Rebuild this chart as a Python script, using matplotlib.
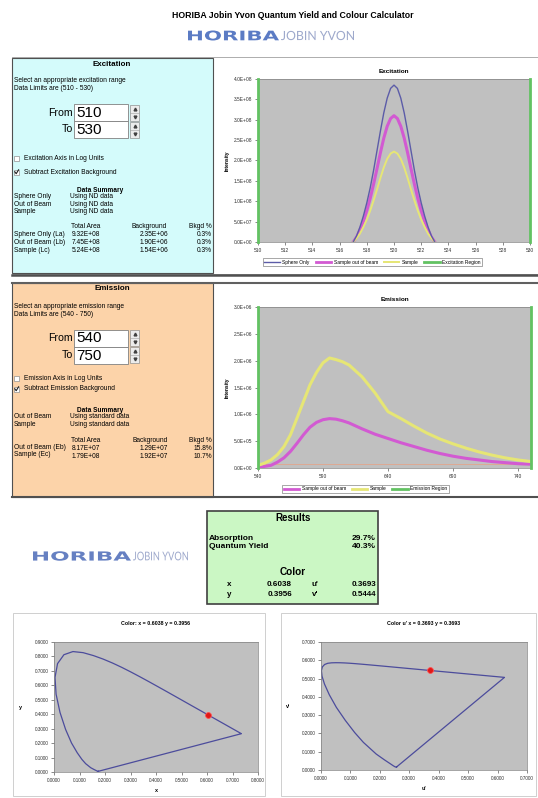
import matplotlib
matplotlib.use('Agg')
import matplotlib.pyplot as plt
from matplotlib.patches import Rectangle, PathPatch
from matplotlib.textpath import TextPath
from matplotlib.font_manager import FontProperties
from matplotlib.transforms import Affine2D
from matplotlib.ticker import FormatStrFormatter, FuncFormatter
from matplotlib.lines import Line2D
import numpy as np

plt.rcParams['font.family'] = ['Liberation Sans', 'DejaVu Sans']

W, H = 538, 798

# excitation scans (intensity in units of 1e8)
EXC_UNIT = 1e8
exc_wl = [517.0, 517.25, 517.5, 517.75, 518.0, 518.25, 518.5, 518.75, 519.0,
          519.25, 519.5, 519.75, 520.0, 520.25, 520.5, 520.75, 521.0, 521.25,
          521.5, 521.75, 522.0, 522.25, 522.5, 522.75, 523.0]
exc_sphere = [0.0, 0.15, 0.37, 0.64, 0.96, 1.33, 1.76, 2.24, 2.72, 3.17, 3.53, 3.77, 3.85,
              3.77, 3.53, 3.17, 2.72, 2.24, 1.76, 1.33, 0.96, 0.64, 0.37, 0.15, 0.0]
exc_outbeam = [0.0, 0.12, 0.30, 0.51, 0.77, 1.07, 1.42, 1.80, 2.19, 2.55, 2.84, 3.03, 3.10,
               3.03, 2.84, 2.55, 2.19, 1.80, 1.42, 1.07, 0.77, 0.51, 0.30, 0.12, 0.0]
exc_sample = [0.0, 0.09, 0.21, 0.37, 0.55, 0.77, 1.02, 1.29, 1.57, 1.83, 2.04, 2.17, 2.22,
              2.17, 2.04, 1.83, 1.57, 1.29, 1.02, 0.77, 0.55, 0.37, 0.21, 0.09, 0.0]
exc_region = [510, 530]

# emission scans (intensity in units of 1e6)
EM_UNIT = 1e6
em_wl = [540, 545, 550, 555, 560, 565, 570, 575, 580, 585, 590, 595, 600, 605, 610,
         620, 630, 640, 650, 660, 670, 680, 690, 700, 710, 720, 730, 740, 750]
em_outbeam = [0.01, 0.03, 0.05, 0.11, 0.19, 0.31, 0.46, 0.62, 0.76, 0.85, 0.90, 0.92, 0.91,
              0.88, 0.84, 0.73, 0.63, 0.55, 0.47, 0.40, 0.33, 0.27, 0.22, 0.18, 0.15,
              0.12, 0.10, 0.08, 0.07]
em_sample = [0.05, 0.09, 0.15, 0.25, 0.40, 0.62, 0.93, 1.24, 1.55, 1.78, 1.96, 2.05, 2.02,
             1.98, 1.92, 1.70, 1.40, 1.05, 0.92, 0.78, 0.65, 0.54, 0.45, 0.37, 0.30,
             0.24, 0.19, 0.15, 0.12]
em_background = [0.07, 0.07]
em_region = [540, 750]

# CIE 1931 spectral locus (380-700 nm)
cie_x = [0.1741, 0.1738, 0.1733, 0.1726, 0.1714, 0.1689, 0.1644, 0.1566, 0.1440, 0.1241,
         0.1096, 0.0913, 0.0687, 0.0454, 0.0235, 0.0082, 0.0039, 0.0139, 0.0389, 0.0743,
         0.1142, 0.1547, 0.1929, 0.2296, 0.2658, 0.3016, 0.3373, 0.3731, 0.4087, 0.4441,
         0.4788, 0.5125, 0.5448, 0.5752, 0.6029, 0.6270, 0.6658, 0.6915, 0.7079, 0.7190,
         0.7260, 0.7300, 0.7334, 0.7347]
cie_y = [0.0050, 0.0049, 0.0048, 0.0048, 0.0051, 0.0069, 0.0109, 0.0177, 0.0297, 0.0578,
         0.0868, 0.1327, 0.2007, 0.2950, 0.4127, 0.5384, 0.6548, 0.7502, 0.8120, 0.8338,
         0.8262, 0.8059, 0.7816, 0.7543, 0.7243, 0.6923, 0.6589, 0.6245, 0.5896, 0.5547,
         0.5202, 0.4866, 0.4544, 0.4242, 0.3965, 0.3725, 0.3340, 0.3083, 0.2920, 0.2809,
         0.2740, 0.2700, 0.2666, 0.2653]

color_x, color_y = 0.6038, 0.3956
color_u, color_v = 0.3693, 0.5444

exc_table = [('Sphere Only (La)', '9.32E+08', '2.35E+06', '0.3%'),
             ('Out of Beam (Lb)', '7.45E+08', '1.90E+06', '0.3%'),
             ('Sample (Lc)', '5.24E+08', '1.54E+06', '0.3%')]
em_table = [('Out of Beam (Eb)', '8.17E+07', '1.29E+07', '15.8%'),
            ('Sample (Ec)', '1.79E+08', '1.92E+07', '10.7%')]
table_head = ['Total Area', 'Background', 'Bkgd %']

C_SPHERE = '#5c5ca8'
C_OUT = '#d25ad2'
C_SAMPLE = '#e6e675'
C_REGION = '#62c262'
C_PLOT = '#c0c0c0'
SMALL = 4.8
TABLE_X = [100, 168, 212]


def main():
    fig = plt.figure(figsize=(W / 100, H / 100), dpi=100)
    bg = fig.add_axes([0, 0, 1, 1])
    bg.set_xlim(0, W)
    bg.set_ylim(H, 0)
    bg.axis('off')

    bg.text(293, 15, 'HORIBA Jobin Yvon Quantum Yield and Colour Calculator',
            ha='center', va='center', fontsize=6.3, weight='bold')
    draw_logo(bg, 188, 280, 354, 35.5, 10, '#5b7bc4')
    draw_logo(bg, 33, 132, 188, 556, 9.5, '#6680c2')

    # excitation block
    bg.add_patch(Rectangle((12, 57), 530, 217, fc='white', ec='#a0a0a0', lw=0.6, zorder=0.5))
    bg.add_patch(Rectangle((12, 58), 201, 215, fc='#d4fbfb', ec='#505050', lw=0.8, zorder=0.6))
    bg.plot([12, 538], [274.5, 274.5], color='#505050', lw=1.8)
    excitation_panel(bg)

    # emission block
    bg.add_patch(Rectangle((12, 283), 530, 214, fc='white', ec='#a0a0a0', lw=0.6, zorder=0.5))
    bg.add_patch(Rectangle((12, 283), 201, 214, fc='#fcd3a9', ec='#505050', lw=0.8, zorder=0.6))
    bg.plot([12, 538], [283, 283], color='#606060', lw=1.5)
    bg.plot([12, 538], [497, 497], color='#505050', lw=1.5)
    emission_panel(bg)

    results_box(bg)

    # chart frames at the bottom
    bg.add_patch(Rectangle((13, 613), 252, 183, fc='white', ec='#c8c8c8', lw=0.6, zorder=0.5))
    bg.add_patch(Rectangle((281, 613), 255, 183, fc='white', ec='#c8c8c8', lw=0.6, zorder=0.5))

    # excitation chart
    ax = px_axes(fig, 258, 79, 530, 242)
    excel_style(ax)
    ax.plot(exc_wl, np.array(exc_sphere) * EXC_UNIT, color=C_SPHERE, lw=1.0, zorder=4)
    ax.plot(exc_wl, np.array(exc_outbeam) * EXC_UNIT, color=C_OUT, lw=2.2, zorder=3)
    ax.plot(exc_wl, np.array(exc_sample) * EXC_UNIT, color=C_SAMPLE, lw=1.4, zorder=3)
    for xv in exc_region:
        ax.axvline(xv, color=C_REGION, lw=2, clip_on=False, zorder=5)
    ax.set_xlim(510, 530)
    ax.set_ylim(0, 4e8)
    ax.set_xticks(range(510, 531, 2))
    ax.set_yticks(np.arange(0, 4.01e8, 5e7))
    ax.yaxis.set_major_formatter(FuncFormatter(lambda v, p: f'{v:.1E}'))
    ax.set_title('Excitation', fontsize=4.6, weight='bold', pad=4)
    ax.set_ylabel('Intensity', fontsize=3.6, weight='bold', labelpad=3)
    handles = [Line2D([], [], color=C_SPHERE, lw=1), Line2D([], [], color=C_OUT, lw=2),
               Line2D([], [], color=C_SAMPLE, lw=1.4), Line2D([], [], color=C_REGION, lw=2)]
    labels = ['Sphere Only', 'Sample out of beam', 'Sample', 'Excitation Region']
    chart_legend(ax, handles, labels, (0.421, -0.123))

    # emission chart
    ax = px_axes(fig, 258, 307, 531, 468)
    excel_style(ax)
    ax.plot(em_region, np.array(em_background) * EM_UNIT, color='#e2a58c', lw=0.6, zorder=2)
    ax.plot(em_wl, np.array(em_outbeam) * EM_UNIT, color=C_OUT, lw=2.2, zorder=3)
    ax.plot(em_wl, np.array(em_sample) * EM_UNIT, color=C_SAMPLE, lw=2.2, zorder=3)
    for xv in em_region:
        ax.axvline(xv, color=C_REGION, lw=2, clip_on=False, zorder=5)
    ax.set_xlim(540, 750)
    ax.set_ylim(0, 3e6)
    ax.set_xticks(range(540, 751, 50))
    ax.set_yticks(np.arange(0, 3.01e6, 5e5))
    ax.yaxis.set_major_formatter(FuncFormatter(lambda v, p: f'{v:.1E}'))
    ax.set_title('Emission', fontsize=4.6, weight='bold', pad=4)
    ax.set_ylabel('Intensity', fontsize=3.6, weight='bold', labelpad=3)
    handles = [Line2D([], [], color=C_OUT, lw=2), Line2D([], [], color=C_SAMPLE, lw=2),
               Line2D([], [], color=C_REGION, lw=2)]
    chart_legend(ax, handles, ['Sample out of beam', 'Sample', 'Emission Region'], (0.394, -0.13))

    # CIE x,y chart
    ax = px_axes(fig, 54, 642, 258, 772)
    cie_chart(ax, cie_x, cie_y, color_x, color_y, 0.8, 0.9,
              'Color: x = 0.6038 y = 0.3956', 'x', 'y')

    # CIE u',v' chart
    cx = np.array(cie_x)
    cy = np.array(cie_y)
    den = -2 * cx + 12 * cy + 3
    ax = px_axes(fig, 321, 642, 527, 770)
    cie_chart(ax, 4 * cx / den, 9 * cy / den, color_u, color_v, 0.7, 0.7,
              "Color u' x = 0.3693 y = 0.3693", "u'", "v'")

    fig.savefig('out.png', dpi=100)


def px_axes(fig, x0, y0, x1, y1):
    return fig.add_axes([x0 / W, 1 - y1 / H, (x1 - x0) / W, (y1 - y0) / H])


def text_block(ax, x, y_first, step, lines, size=SMALL, ha='left', weight='normal', **kw):
    # several rows as one text, spaced `step` pixels apart
    r = ax.figure.canvas.get_renderer()
    prop = FontProperties(family=plt.rcParams['font.family'], size=size, weight=weight)
    _, h, d = r.get_text_width_height_descent('lp', prop, ismath=False)
    yc = y_first + step * (len(lines) - 1) / 2
    ax.text(x, yc, '\n'.join(lines), fontsize=size, ha=ha, va='center', multialignment=ha,
            weight=weight, linespacing=step / (h - d), **kw)


def excel_style(ax):
    ax.set_facecolor(C_PLOT)
    for s in ax.spines.values():
        s.set_color('#808080')
        s.set_linewidth(0.5)
    ax.tick_params(labelsize=3.5, length=2, width=0.4, pad=2, colors='#303030')


def chart_legend(ax, handles, labels, center):
    leg = ax.legend(handles, labels, loc='center', bbox_to_anchor=center, ncol=len(labels),
                    fontsize=3.5, frameon=True, fancybox=False, handlelength=3.2,
                    columnspacing=1.2, handletextpad=0.5, borderpad=0.35)
    leg.get_frame().set_edgecolor('#404040')
    leg.get_frame().set_linewidth(0.4)


def cie_chart(ax, xs, ys, px, py, xmax, ymax, title, xlabel, ylabel):
    excel_style(ax)
    xs = list(xs) + [xs[0]]
    ys = list(ys) + [ys[0]]
    ax.plot(xs, ys, color='#4c4c9c', lw=0.9)
    ax.plot([px], [py], 'o', color='#e01818', ms=4.2, mec='#ff5050', mew=0.6, zorder=5)
    ax.set_xlim(0, xmax)
    ax.set_ylim(0, ymax)
    ax.set_xticks(np.arange(0, xmax + 0.001, 0.1))
    ax.set_yticks(np.arange(0, ymax + 0.001, 0.1))
    ax.xaxis.set_major_formatter(FormatStrFormatter('%.4f'))
    ax.yaxis.set_major_formatter(FormatStrFormatter('%.4f'))
    ax.tick_params(labelsize=3.3)
    ax.set_title(title, fontsize=3.8, weight='bold', pad=12)
    ax.set_xlabel(xlabel, fontsize=4, weight='bold', labelpad=4)
    ax.set_ylabel(ylabel, fontsize=4, weight='bold', rotation=0, labelpad=10, va='center')


def draw_logo(ax, x0, xsplit, x1, yc, h, color):
    # wide heavy "HORIBA" followed by a thin "JOBIN YVON"
    parts = [('HORIBA', x0, xsplit - 1, FontProperties(family='DejaVu Sans', weight='bold'), color, h),
             ('JOBIN YVON', xsplit + 1, x1, FontProperties(family='Lato', weight='normal'), '#9ea9cc', h * 0.93)]
    for text, left, right, prop, col, hh in parts:
        tp = TextPath((0, 0), text, size=1, prop=prop)
        ext = tp.get_extents()
        tr = (Affine2D().translate(-ext.x0, -ext.y0)
              .scale((right - left) / ext.width, -hh / ext.height)
              .translate(left, yc + hh / 2))
        ax.add_patch(PathPatch(tr.transform_path(tp), fc=col, ec='none', zorder=3))


def excitation_panel(bg):
    bg.text(112, 64, 'Excitation', ha='center', va='center', fontsize=5.8, weight='bold')
    text_block(bg, 14, 82, 5.5, ['Select an appropriate excitation range',
                                 'Data Limits are (510 - 530)'])
    entry(bg, 104, '510', 'From')
    entry(bg, 121, '530', 'To')
    checkbox(bg, 158, 'Excitation Axis in Log Units', False)
    checkbox(bg, 172, 'Subtract Excitation Background', True)
    bg.text(100, 190.6, 'Data Summary', ha='center', va='center', fontsize=4.7, weight='bold')
    text_block(bg, 14, 198.8, 5.5, ['Sphere Only', 'Out of Beam', 'Sample'])
    text_block(bg, 70, 198.8, 5.5, ['Using ND data'] * 3)
    for xr, head in zip(TABLE_X, table_head):
        bg.text(xr - (1 if xr == 168 else 0), 227, head, ha='right', va='center', fontsize=SMALL)
    cols = list(zip(*exc_table))
    text_block(bg, 14, 237, 5.5, cols[0])
    for xr, col in zip(TABLE_X, cols[1:]):
        text_block(bg, xr, 237, 5.5, col, ha='right')


def emission_panel(bg):
    bg.text(112, 289, 'Emission', ha='center', va='center', fontsize=5.8, weight='bold')
    text_block(bg, 14, 308, 5.5, ['Select an appropriate emission range',
                                  'Data Limits are (540 - 750)'])
    entry(bg, 329.5, '540', 'From')
    entry(bg, 346.5, '750', 'To')
    checkbox(bg, 378, 'Emission Axis in Log Units', False)
    checkbox(bg, 389, 'Subtract Emission Background', True)
    bg.text(100, 410.3, 'Data Summary', ha='center', va='center', fontsize=4.7, weight='bold')
    text_block(bg, 14, 417.5, 5.5, ['Out of Beam', 'Sample'])
    text_block(bg, 70, 417.5, 5.5, ['Using standard data'] * 2)
    cols = list(zip(*em_table))
    text_block(bg, 14, 448.5, 5.5, cols[0])
    for xr, head, col in zip(TABLE_X, table_head, cols[1:]):
        text_block(bg, xr, 443, 5.5, [head] + list(col), ha='right')


def entry(bg, y, value, label):
    bg.text(73, y + 8.5, label, ha='right', va='center', fontsize=7.6)
    bg.add_patch(Rectangle((74, y), 54, 17, fc='white', ec='#808080', lw=0.6, zorder=2))
    bg.text(76, y + 9, value, ha='left', va='center', fontsize=11, zorder=3)
    bg.add_patch(Rectangle((130, y + 0.5), 9, 16, fc='#ececec', ec='#909090', lw=0.5, zorder=2))
    bg.plot([130, 139], [y + 8.5, y + 8.5], color='#a0a0a0', lw=0.4, zorder=3)
    bg.plot([134.5], [y + 4.5], marker='^', ms=2.0, color='#404040', zorder=3)
    bg.plot([134.5], [y + 12.5], marker='v', ms=2.0, color='#404040', zorder=3)


def checkbox(bg, y, label, checked):
    bg.add_patch(Rectangle((14, y - 2.5), 5, 5, fc='white', ec='#909090', lw=0.5, zorder=2))
    if checked:
        bg.plot([14.8, 16.2, 18.6], [y - 0.2, y + 1.7, y - 2.2], color='#202020', lw=0.8, zorder=3)
    bg.text(24, y, label, fontsize=SMALL, va='center')


def results_box(bg):
    bg.add_patch(Rectangle((207, 511), 171, 93, fc='#cbf7c4', ec='#404040', lw=1.2, zorder=1))
    bg.text(293, 518, 'Results', ha='center', va='center', fontsize=7, weight='bold')
    text_block(bg, 209, 539, 6.5, ['Absorption', 'Quantum Yield'], size=6, weight='bold')
    text_block(bg, 376, 539, 6.5, ['29.7%', '40.3%'], size=6, ha='right', weight='bold')
    bg.text(293, 572, 'Color', ha='center', va='center', fontsize=7.2, weight='bold')
    cols = [(229, 'center', ['x', 'y']),
            (292, 'right', [f'{color_x:.4f}', f'{color_y:.4f}']),
            (315, 'center', ["u'", "v'"]),
            (376, 'right', [f'{color_u:.4f}', f'{color_v:.4f}'])]
    for xx, ha, vals in cols:
        text_block(bg, xx, 586, 8, vals, size=5.8, ha=ha, weight='bold')


if __name__ == '__main__':
    main()
